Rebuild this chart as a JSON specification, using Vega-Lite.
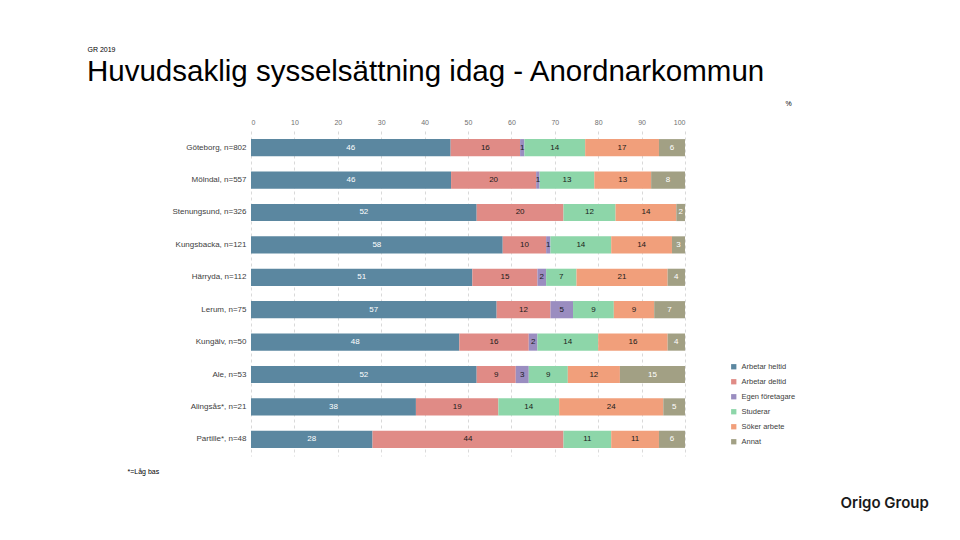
{
  "$schema": "https://vega.github.io/schema/vega-lite/v6.json",
  "width": 434,
  "height": 325,
  "autosize": {"type": "none"},
  "padding": {"left": 251, "top": 131, "right": 275, "bottom": 84},
  "background": "white",
  "config": {
    "font": "Liberation Sans",
    "view": {"stroke": null}
  },
  "title": {
    "text": "Huvudsaklig sysselsättning idag - Anordnarkommun",
    "anchor": "start",
    "frame": "group",
    "dx": -164,
    "dy": 65,
    "fontSize": 29.5,
    "fontWeight": "normal",
    "font": "Liberation Sans",
    "color": "#000000",
    "baseline": "alphabetic",
    "offset": 0
  },
  "data": {
    "values": [
      {"Kommun": "Göteborg, n=802", "Kategori": "Arbetar heltid", "Andel": 46, "Ordning": 1},
      {"Kommun": "Göteborg, n=802", "Kategori": "Arbetar deltid", "Andel": 16, "Ordning": 2},
      {"Kommun": "Göteborg, n=802", "Kategori": "Egen företagare", "Andel": 1, "Ordning": 3},
      {"Kommun": "Göteborg, n=802", "Kategori": "Studerar", "Andel": 14, "Ordning": 4},
      {"Kommun": "Göteborg, n=802", "Kategori": "Söker arbete", "Andel": 17, "Ordning": 5},
      {"Kommun": "Göteborg, n=802", "Kategori": "Annat", "Andel": 6, "Ordning": 6},
      {"Kommun": "Mölndal, n=557", "Kategori": "Arbetar heltid", "Andel": 46.1, "Ordning": 1},
      {"Kommun": "Mölndal, n=557", "Kategori": "Arbetar deltid", "Andel": 19.6, "Ordning": 2},
      {"Kommun": "Mölndal, n=557", "Kategori": "Egen företagare", "Andel": 0.8, "Ordning": 3},
      {"Kommun": "Mölndal, n=557", "Kategori": "Studerar", "Andel": 12.6, "Ordning": 4},
      {"Kommun": "Mölndal, n=557", "Kategori": "Söker arbete", "Andel": 13.1, "Ordning": 5},
      {"Kommun": "Mölndal, n=557", "Kategori": "Annat", "Andel": 7.8, "Ordning": 6},
      {"Kommun": "Stenungsund, n=326", "Kategori": "Arbetar heltid", "Andel": 52, "Ordning": 1},
      {"Kommun": "Stenungsund, n=326", "Kategori": "Arbetar deltid", "Andel": 20, "Ordning": 2},
      {"Kommun": "Stenungsund, n=326", "Kategori": "Studerar", "Andel": 12, "Ordning": 4},
      {"Kommun": "Stenungsund, n=326", "Kategori": "Söker arbete", "Andel": 14, "Ordning": 5},
      {"Kommun": "Stenungsund, n=326", "Kategori": "Annat", "Andel": 2, "Ordning": 6},
      {"Kommun": "Kungsbacka, n=121", "Kategori": "Arbetar heltid", "Andel": 58, "Ordning": 1},
      {"Kommun": "Kungsbacka, n=121", "Kategori": "Arbetar deltid", "Andel": 10, "Ordning": 2},
      {"Kommun": "Kungsbacka, n=121", "Kategori": "Egen företagare", "Andel": 1, "Ordning": 3},
      {"Kommun": "Kungsbacka, n=121", "Kategori": "Studerar", "Andel": 14, "Ordning": 4},
      {"Kommun": "Kungsbacka, n=121", "Kategori": "Söker arbete", "Andel": 14, "Ordning": 5},
      {"Kommun": "Kungsbacka, n=121", "Kategori": "Annat", "Andel": 3, "Ordning": 6},
      {"Kommun": "Härryda, n=112", "Kategori": "Arbetar heltid", "Andel": 51, "Ordning": 1},
      {"Kommun": "Härryda, n=112", "Kategori": "Arbetar deltid", "Andel": 15, "Ordning": 2},
      {"Kommun": "Härryda, n=112", "Kategori": "Egen företagare", "Andel": 2, "Ordning": 3},
      {"Kommun": "Härryda, n=112", "Kategori": "Studerar", "Andel": 7, "Ordning": 4},
      {"Kommun": "Härryda, n=112", "Kategori": "Söker arbete", "Andel": 21, "Ordning": 5},
      {"Kommun": "Härryda, n=112", "Kategori": "Annat", "Andel": 4, "Ordning": 6},
      {"Kommun": "Lerum, n=75", "Kategori": "Arbetar heltid", "Andel": 56.6, "Ordning": 1},
      {"Kommun": "Lerum, n=75", "Kategori": "Arbetar deltid", "Andel": 12.4, "Ordning": 2},
      {"Kommun": "Lerum, n=75", "Kategori": "Egen företagare", "Andel": 5.2, "Ordning": 3},
      {"Kommun": "Lerum, n=75", "Kategori": "Studerar", "Andel": 9.4, "Ordning": 4},
      {"Kommun": "Lerum, n=75", "Kategori": "Söker arbete", "Andel": 9.3, "Ordning": 5},
      {"Kommun": "Lerum, n=75", "Kategori": "Annat", "Andel": 7.1, "Ordning": 6},
      {"Kommun": "Kungälv, n=50", "Kategori": "Arbetar heltid", "Andel": 48, "Ordning": 1},
      {"Kommun": "Kungälv, n=50", "Kategori": "Arbetar deltid", "Andel": 16, "Ordning": 2},
      {"Kommun": "Kungälv, n=50", "Kategori": "Egen företagare", "Andel": 2, "Ordning": 3},
      {"Kommun": "Kungälv, n=50", "Kategori": "Studerar", "Andel": 14, "Ordning": 4},
      {"Kommun": "Kungälv, n=50", "Kategori": "Söker arbete", "Andel": 16, "Ordning": 5},
      {"Kommun": "Kungälv, n=50", "Kategori": "Annat", "Andel": 4, "Ordning": 6},
      {"Kommun": "Ale, n=53", "Kategori": "Arbetar heltid", "Andel": 52, "Ordning": 1},
      {"Kommun": "Ale, n=53", "Kategori": "Arbetar deltid", "Andel": 9, "Ordning": 2},
      {"Kommun": "Ale, n=53", "Kategori": "Egen företagare", "Andel": 3, "Ordning": 3},
      {"Kommun": "Ale, n=53", "Kategori": "Studerar", "Andel": 9, "Ordning": 4},
      {"Kommun": "Ale, n=53", "Kategori": "Söker arbete", "Andel": 12, "Ordning": 5},
      {"Kommun": "Ale, n=53", "Kategori": "Annat", "Andel": 15, "Ordning": 6},
      {"Kommun": "Alingsås*, n=21", "Kategori": "Arbetar heltid", "Andel": 38, "Ordning": 1},
      {"Kommun": "Alingsås*, n=21", "Kategori": "Arbetar deltid", "Andel": 19, "Ordning": 2},
      {"Kommun": "Alingsås*, n=21", "Kategori": "Studerar", "Andel": 14, "Ordning": 4},
      {"Kommun": "Alingsås*, n=21", "Kategori": "Söker arbete", "Andel": 24, "Ordning": 5},
      {"Kommun": "Alingsås*, n=21", "Kategori": "Annat", "Andel": 5, "Ordning": 6},
      {"Kommun": "Partille*, n=48", "Kategori": "Arbetar heltid", "Andel": 28, "Ordning": 1},
      {"Kommun": "Partille*, n=48", "Kategori": "Arbetar deltid", "Andel": 44, "Ordning": 2},
      {"Kommun": "Partille*, n=48", "Kategori": "Studerar", "Andel": 11, "Ordning": 4},
      {"Kommun": "Partille*, n=48", "Kategori": "Söker arbete", "Andel": 11, "Ordning": 5},
      {"Kommun": "Partille*, n=48", "Kategori": "Annat", "Andel": 6, "Ordning": 6}
    ]
  },
  "resolve": {"axis": {"x": "independent", "y": "independent"}},
  "layer": [
    {
      "mark": {"type": "bar"},
      "encoding": {
        "y": {
          "field": "Kommun",
          "type": "nominal",
          "sort": null,
          "scale": {"paddingInner": 0.47, "paddingOuter": 0.25},
          "axis": {
            "orient": "left",
            "ticks": false,
            "domain": false,
            "labelFontSize": 8,
            "labelColor": "#404040",
            "labelPadding": 5,
            "title": "GR 2019",
            "titleAngle": 0,
            "titleX": -164,
            "titleY": -80,
            "titleAlign": "left",
            "titleBaseline": "alphabetic",
            "titleFontSize": 7,
            "titleFontWeight": "normal",
            "titleColor": "#000000"
          }
        },
        "x": {
          "field": "Andel",
          "type": "quantitative",
          "stack": "zero",
          "scale": {"domain": [0, 100], "nice": false},
          "axis": {
            "orient": "top",
            "values": [0, 10, 20, 30, 40, 50, 60, 70, 80, 90, 100],
            "ticks": false,
            "domain": false,
            "grid": true,
            "gridDash": [3, 3],
            "gridColor": "#c8c8c8",
            "gridWidth": 0.7,
            "labelFontSize": 7,
            "labelColor": "#707070",
            "labelPadding": 6,
            "title": "%",
            "titleX": 534,
            "titleY": -26,
            "titleAlign": "left",
            "titleBaseline": "alphabetic",
            "titleFontSize": 7,
            "titleFontWeight": "normal",
            "titleColor": "#000000"
          }
        },
        "color": {
          "field": "Kategori",
          "type": "nominal",
          "scale": {
            "domain": ["Arbetar heltid", "Arbetar deltid", "Egen företagare", "Studerar", "Söker arbete", "Annat"],
            "range": ["#5b87a0", "#e08b86", "#9a8dc0", "#8dd6a9", "#f19f7b", "#a2a084"]
          },
          "legend": {
            "orient": "none",
            "legendX": 479,
            "legendY": 232,
            "title": null,
            "symbolType": "square",
            "symbolSize": 28,
            "labelFontSize": 7.5,
            "labelColor": "#404040",
            "rowPadding": 6,
            "symbolStrokeWidth": 0
          }
        },
        "order": {"field": "Ordning", "type": "quantitative"}
      }
    },
    {
      "mark": {"type": "text", "fontSize": 8, "baseline": "middle"},
      "encoding": {
        "y": {
          "field": "Kommun",
          "type": "nominal",
          "sort": null,
          "axis": {
            "orient": "right",
            "labels": false,
            "ticks": false,
            "domain": false,
            "grid": false,
            "title": "Origo Group",
            "titleAngle": 0,
            "titleX": 155,
            "titleY": 376,
            "titleAlign": "left",
            "titleBaseline": "alphabetic",
            "titleFont": "Inter",
            "titleFontSize": 15,
            "titleFontWeight": 600,
            "titleColor": "#1a1a1a"
          }
        },
        "x": {
          "field": "Andel",
          "type": "quantitative",
          "stack": "zero",
          "bandPosition": 0.5,
          "axis": {
            "orient": "bottom",
            "labels": false,
            "ticks": false,
            "domain": false,
            "grid": false,
            "title": "*=Låg bas",
            "titleX": -124,
            "titleY": 17,
            "titleAlign": "left",
            "titleBaseline": "alphabetic",
            "titleFontSize": 7,
            "titleFontWeight": "normal",
            "titleColor": "#000000"
          }
        },
        "detail": {"field": "Kategori", "type": "nominal"},
        "order": {"field": "Ordning", "type": "quantitative"},
        "text": {"field": "Andel", "type": "quantitative", "format": ".0f"},
        "color": {
          "condition": {"test": "datum.Kategori === 'Arbetar heltid' || datum.Kategori === 'Annat'", "value": "#ffffff"},
          "value": "#1a1a1a"
        }
      }
    }
  ]
}
